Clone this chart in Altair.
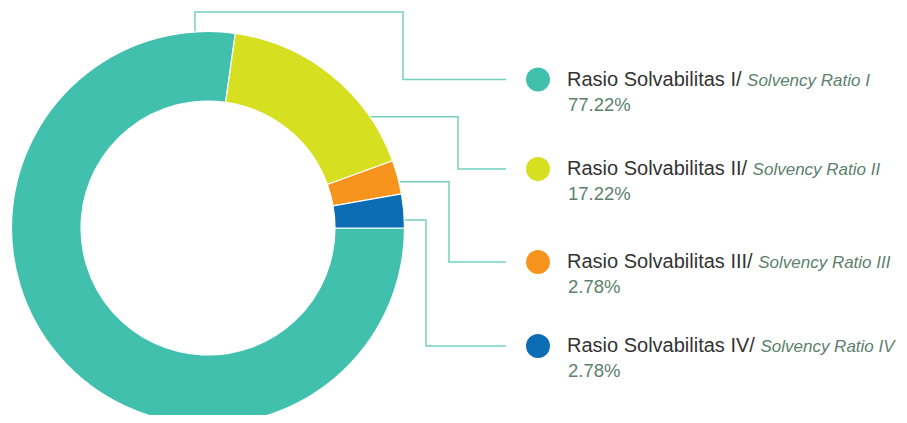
import math
import altair as alt
import pandas as pd

# ---------------- data ----------------
labels_id = ["Rasio Solvabilitas I/", "Rasio Solvabilitas II/", "Rasio Solvabilitas III/", "Rasio Solvabilitas IV/"]
labels_en = ["Solvency Ratio I", "Solvency Ratio II", "Solvency Ratio III", "Solvency Ratio IV"]
shares = [77.22, 17.22, 2.78, 2.78]
pct_labels = ["77.22%", "17.22%", "2.78%", "2.78%"]
colors = ["#41c0ad", "#d7df21", "#f7941e", "#0c6db5"]

# ---------------- layout (pixels, plot coordinates) ----------------
W, H = 891, 407
CX, CY = 200, 220          # donut centre
R_OUT, R_IN = 196.5, 127
ROW_Y = [71.5, 161, 254, 338]          # legend row centres
LEG_CIRCLE_X = 530
TEXT_X = 559
FS_MAIN, FS_IT, FS_PCT = 20, 17, 18.5
ANCHOR_DEG = [-3.8, 55.5, 76.4, 87.7]   # leader anchor on outer rim (deg clockwise from 12 o'clock)
ELBOW_X = [395, 450, 441, 418]
TOP_Y = 4                               # first leader goes up to here
LINE_END_X = 498
LINE_COLOR = "#74cfc1"
DARK = "#333333"
MUTED = "#5b806d"

# Arial / Liberation Sans advance widths (per 1000 em)
ADV = {' ': 278, '/': 278, 'R': 722, 'a': 556, 's': 500, 'i': 222, 'o': 556, 'S': 667,
       'l': 222, 'v': 500, 'b': 556, 't': 278, 'I': 278, 'V': 667}


def text_w(s, fs):
    return sum(ADV.get(c, 556) for c in s) * fs / 1000.0


cats = [f"{a} {b}" for a, b in zip(labels_id, labels_en)]

arc_df = pd.DataFrame({"cat": cats, "value": shares, "ord": list(range(4))})

rows = []
for i in range(4):
    rows.append({
        "cat": cats[i], "row_y": ROW_Y[i],
        "circ_x": LEG_CIRCLE_X,
        "tx": TEXT_X, "ty": ROW_Y[i] + 6,
        "ix": TEXT_X + text_w(labels_id[i] + " ", FS_MAIN), "iy": ROW_Y[i] + 6,
        "px": TEXT_X + 1, "py": ROW_Y[i] + 31,
        "t_id": labels_id[i], "t_en": labels_en[i], "t_pct": pct_labels[i],
    })
leg_df = pd.DataFrame(rows)

# leader lines
pts = []
for i in range(4):
    a = math.radians(ANCHOR_DEG[i])
    ax = CX + R_OUT * math.sin(a)
    ay = CY - R_OUT * math.cos(a)
    if i == 0:
        path = [(ax, ay), (ax, TOP_Y), (ELBOW_X[i], TOP_Y), (ELBOW_X[i], ROW_Y[i]), (LINE_END_X, ROW_Y[i])]
    else:
        path = [(ax, ay), (ELBOW_X[i], ay), (ELBOW_X[i], ROW_Y[i]), (LINE_END_X, ROW_Y[i])]
    for k, (x, y) in enumerate(path):
        pts.append({"seg": i, "k": k, "x": x, "y": y})
line_df = pd.DataFrame(pts)

color_scale = alt.Scale(domain=cats, range=colors)

donut = alt.Chart(arc_df).mark_arc(
    innerRadius=R_IN, outerRadius=R_OUT, stroke="white", strokeWidth=1.2
).encode(
    theta=alt.Theta("value:Q", stack=True, scale=alt.Scale(range=[math.pi / 2, math.pi / 2 + 2 * math.pi])),
    color=alt.Color("cat:N", scale=color_scale, legend=None),
    order=alt.Order("ord:Q"),
    x=alt.value(CX), y=alt.value(CY),
)

leaders = alt.Chart(line_df).mark_line(strokeWidth=1.5, color=LINE_COLOR).encode(
    x=alt.X("x:Q", scale=None),
    y=alt.Y("y:Q", scale=None),
    detail="seg:N",
    order="k:Q",
)

circles = alt.Chart(leg_df).mark_circle(size=math.pi * 13.5 ** 2, opacity=1).encode(
    x=alt.X("circ_x:Q", scale=None),
    y=alt.Y("row_y:Q", scale=None),
    color=alt.Color("cat:N", scale=color_scale, legend=None),
)

FONT = "Liberation Sans, Arial, sans-serif"

t_main = alt.Chart(leg_df).mark_text(
    align="left", baseline="alphabetic", font=FONT, fontSize=FS_MAIN, color=DARK
).encode(x=alt.X("tx:Q", scale=None), y=alt.Y("ty:Q", scale=None), text="t_id:N")

t_it = alt.Chart(leg_df).mark_text(
    align="left", baseline="alphabetic", font=FONT, fontSize=FS_IT, fontStyle="italic", color=MUTED
).encode(x=alt.X("ix:Q", scale=None), y=alt.Y("iy:Q", scale=None), text="t_en:N")

t_pct = alt.Chart(leg_df).mark_text(
    align="left", baseline="alphabetic", font=FONT, fontSize=FS_PCT, color=MUTED
).encode(x=alt.X("px:Q", scale=None), y=alt.Y("py:Q", scale=None), text="t_pct:N")

chart = alt.layer(leaders, donut, circles, t_main, t_it, t_pct).properties(
    width=W, height=H, autosize=alt.AutoSizeParams(type="none"), padding=0
).configure_view(stroke=None)

chart.save("out.html", embed_options={"renderer": "svg", "actions": False})
